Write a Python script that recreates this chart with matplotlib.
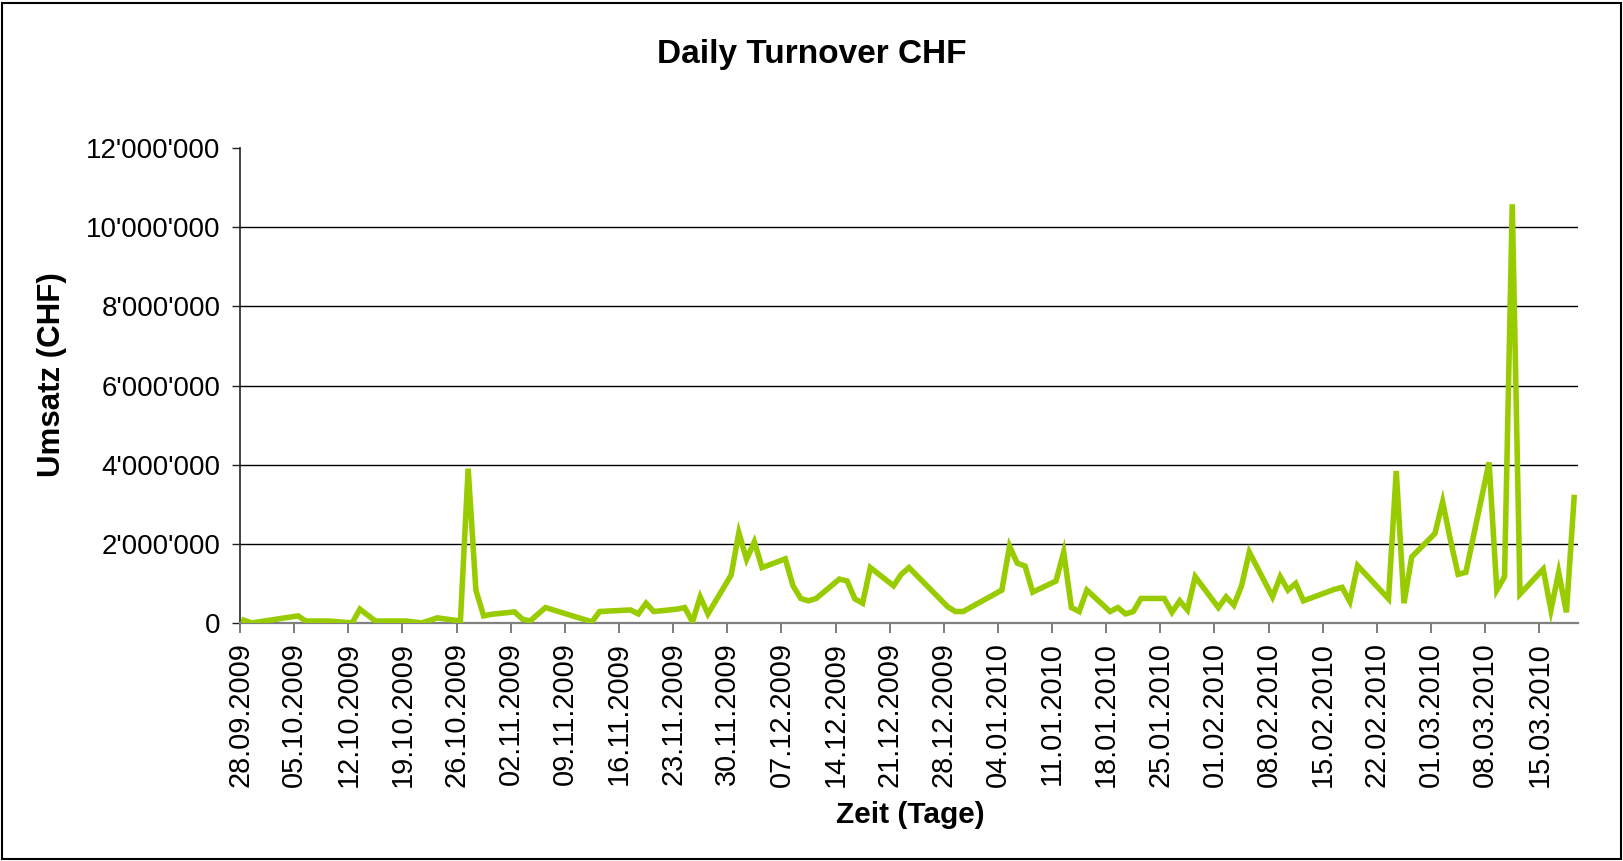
import pandas as pd
import matplotlib
matplotlib.use("Agg")
import matplotlib.pyplot as plt
from matplotlib.patches import Rectangle
from matplotlib.ticker import FuncFormatter

plt.rcParams['font.family'] = ['Liberation Sans', 'DejaVu Sans']

# Daily turnover (CHF)
dates = [
    "28.09.2009", "29.09.2009", "05.10.2009", "06.10.2009", "09.10.2009",
    "12.10.2009", "13.10.2009", "15.10.2009", "19.10.2009", "21.10.2009",
    "23.10.2009", "26.10.2009", "27.10.2009", "28.10.2009", "29.10.2009",
    "30.10.2009", "02.11.2009", "03.11.2009", "04.11.2009", "06.11.2009",
    "12.11.2009", "13.11.2009", "16.11.2009", "17.11.2009", "18.11.2009",
    "19.11.2009", "20.11.2009", "23.11.2009", "24.11.2009", "25.11.2009",
    "26.11.2009", "27.11.2009", "30.11.2009", "01.12.2009", "02.12.2009",
    "03.12.2009", "04.12.2009", "07.12.2009", "08.12.2009", "09.12.2009",
    "10.12.2009", "11.12.2009", "14.12.2009", "15.12.2009", "16.12.2009",
    "17.12.2009", "18.12.2009", "21.12.2009", "22.12.2009", "23.12.2009",
    "28.12.2009", "29.12.2009", "30.12.2009", "04.01.2010", "05.01.2010",
    "06.01.2010", "07.01.2010", "08.01.2010", "11.01.2010", "12.01.2010",
    "13.01.2010", "14.01.2010", "15.01.2010", "18.01.2010", "19.01.2010",
    "20.01.2010", "21.01.2010", "22.01.2010", "25.01.2010", "26.01.2010",
    "27.01.2010", "28.01.2010", "29.01.2010", "01.02.2010", "02.02.2010",
    "03.02.2010", "04.02.2010", "05.02.2010", "08.02.2010", "09.02.2010",
    "10.02.2010", "11.02.2010", "12.02.2010", "16.02.2010", "17.02.2010",
    "18.02.2010", "19.02.2010", "23.02.2010", "24.02.2010", "25.02.2010",
    "26.02.2010", "01.03.2010", "02.03.2010", "03.03.2010", "04.03.2010",
    "05.03.2010", "08.03.2010", "09.03.2010", "10.03.2010", "11.03.2010",
    "12.03.2010", "15.03.2010", "16.03.2010", "17.03.2010", "18.03.2010",
    "19.03.2010",
]
turnover_mio = [
    0.07, 0.00, 0.18, 0.05, 0.05,
    0.00, 0.35, 0.05, 0.05, 0.00,
    0.13, 0.05, 3.90, 0.83, 0.18,
    0.22, 0.28, 0.10, 0.05, 0.39,
    0.03, 0.29, 0.32, 0.33, 0.23,
    0.50, 0.29, 0.35, 0.39, 0.03,
    0.66, 0.23, 1.21, 2.28, 1.61,
    2.05, 1.40, 1.62, 0.94, 0.62,
    0.56, 0.62, 1.11, 1.06, 0.61,
    0.50, 1.40, 0.94, 1.23, 1.40,
    0.41, 0.29, 0.29, 0.83, 1.94,
    1.51, 1.44, 0.78, 1.06, 1.79,
    0.39, 0.29, 0.83, 0.29, 0.39,
    0.23, 0.29, 0.62, 0.62, 0.27,
    0.56, 0.33, 1.17, 0.39, 0.66,
    0.45, 0.94, 1.79, 0.66, 1.17,
    0.83, 1.00, 0.56, 0.85, 0.90,
    0.54, 1.45, 0.61, 3.84, 0.50,
    1.67, 2.26, 3.06, 2.10, 1.23,
    1.28, 4.06, 0.83, 1.17, 10.58,
    0.73, 1.36, 0.33, 1.28, 0.27,
    3.17,
]

start = pd.Timestamp("2009-09-28")
end = pd.Timestamp("2010-03-20")
d = pd.to_datetime(dates, format="%d.%m.%Y")
# Excel date axis: points sit in the middle of each day
x = (d - start).days + 0.5
y = [v * 1e6 for v in turnover_mio]

tick_dates = pd.date_range(start, "2010-03-15", freq="7D")
tick_x = (tick_dates - start).days
tick_labels = [t.strftime("%d.%m.%Y") for t in tick_dates]

W, H = 1623, 861
fig = plt.figure(figsize=(W / 100, H / 100), dpi=100)
ax = fig.add_axes([240 / W, 1 - 623 / H, (1578 - 240) / W, (623 - 148) / H])

ax.plot(x, y, color="#99CC00", lw=4.0, solid_joinstyle="miter", zorder=3)

ax.set_xlim(0, (end - start).days)
ax.set_ylim(0, 12e6)
ax.set_yticks([0, 2e6, 4e6, 6e6, 8e6, 10e6, 12e6])
ax.yaxis.set_major_formatter(FuncFormatter(lambda v, p: f"{int(v):,}".replace(",", "'")))
ax.set_xticks(tick_x)
ax.set_xticklabels(tick_labels, rotation=90)

ax.yaxis.grid(True, color="black", lw=1.0)
ax.get_ygridlines()[-1].set_visible(False)
ax.set_axisbelow(True)

for s in ["top", "right"]:
    ax.spines[s].set_visible(False)
ax.spines["left"].set_color("#222222")
ax.spines["left"].set_linewidth(1.2)
ax.spines["bottom"].set_color("#808080")
ax.spines["bottom"].set_linewidth(1.6)

ax.tick_params(axis="y", direction="out", length=6, width=1, color="#222222",
               labelsize=20, pad=8)
ax.tick_params(axis="x", direction="out", length=7, width=1.2, color="#666666",
               labelsize=20.8, pad=7)

fig.text(812 / W, 1 - 54 / H, "Daily Turnover CHF", ha="center", va="center",
         fontsize=24, fontweight="bold")
fig.text(910 / W, 1 - 815 / H, "Zeit (Tage)", ha="center", va="center",
         fontsize=21.5, fontweight="bold")
fig.text(52 / W, 1 - 375 / H, "Umsatz (CHF)", ha="center", va="center",
         rotation=90, fontsize=22.5, fontweight="bold")

fig.patches.append(Rectangle((2 / W, 2 / H), (W - 4) / W, (H - 5) / H,
                             transform=fig.transFigure, fill=False,
                             edgecolor="black", lw=1.5))

fig.savefig("out.png", dpi=100)
